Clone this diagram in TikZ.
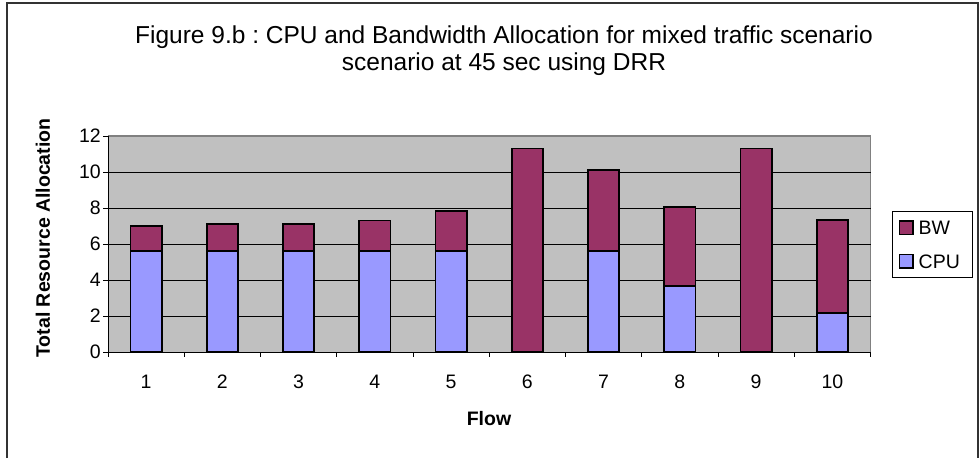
\documentclass[tikz,border=0pt]{standalone}
\usepackage{fontspec}
\setmainfont{Liberation Sans}
\frenchspacing
\definecolor{bwcol}{HTML}{993366}
\definecolor{cpucol}{HTML}{9999FF}
\definecolor{plotbg}{HTML}{C0C0C0}
\definecolor{plotframe}{HTML}{808080}
\definecolor{chartframe}{HTML}{333333}
\begin{document}
\begin{tikzpicture}[x=1pt,y=-1pt,
  titletext/.style={inner sep=0pt,font=\fontsize{24.5}{29}\selectfont},
  ticktext/.style={inner sep=0pt,font=\fontsize{19.5}{23}\selectfont},
  axistitle/.style={inner sep=0pt,font=\fontsize{19.5}{23}\selectfont\bfseries},
  legendtext/.style={inner sep=0pt,anchor=west,font=\fontsize{19.5}{23}\selectfont},
  bar/.style={draw=black,line width=1.7pt},
  grid line/.style={black,line width=0.8pt},
  axis line/.style={black,line width=0.9pt}]
\useasboundingbox (0,0) rectangle (980,458);
% outer chart frame
\draw[chartframe,line width=1.6pt] (7,458) -- (7,3) -- (978,3) -- (978,458);
% title
\node[titletext,anchor=base] (title1) at (504,43) {Figure 9.b : CPU and Bandwidth Allocation for mixed traffic scenario};
\node[titletext,anchor=base] (title2) at (504,70) {scenario at 45 sec using DRR};
% plot area
\fill[plotbg] (108,136) rectangle (870.5,352);
\draw[plotframe,line width=1.4pt] (108,136) -- (870.5,136) -- (870.5,352);
\foreach \v in {2,4,...,10}
  \draw[grid line] (108,{352-18*\v}) -- (870.5,{352-18*\v});
% y axis with ticks and labels
\draw[axis line] (108,136) -- (108,352);
\foreach \v in {0,2,...,12}{
  \draw[axis line] (103,{352-18*\v}) -- (108,{352-18*\v});
  \node[ticktext,anchor=east] (ytick\v) at (101,{352-18*\v}) {\v};
}
% x axis with ticks
\draw[axis line] (108,352) -- (870.5,352);
\foreach \k in {0,...,10}
  \draw[axis line] ({108+76.25*\k},352) -- ({108+76.25*\k},357);
% stacked bars: flow / CPU / total
\foreach \i/\c/\t in {1/5.6/7.0,2/5.6/7.1,3/5.6/7.1,4/5.6/7.3,5/5.6/7.85,
                      6/0/11.3,7/5.6/10.1,8/3.67/8.05,9/0/11.3,10/2.17/7.33}{
  \pgfmathsetmacro{\cx}{108+76.25*(\i-0.5)}
  \filldraw[bar,fill=bwcol] ({\cx-15.7},{352-18*\c}) rectangle ({\cx+15.7},{352-18*\t});
  \filldraw[bar,fill=cpucol] ({\cx-15.7},352) rectangle ({\cx+15.7},{352-18*\c});
  \node[ticktext,anchor=base] (xtick\i) at (\cx,388) {\i};
}
% axis titles
\node[axistitle] (xtitle) at (489,419) {Flow};
\node[axistitle,rotate=90] (ytitle) at (43,238) {Total Resource Allocation};
% legend
\draw[black,line width=1pt] (892,211) rectangle (972,277);
\filldraw[draw=black,line width=1.5pt,fill=bwcol] (899.5,221) rectangle (913,234.5);
\filldraw[draw=black,line width=1.5pt,fill=cpucol] (899.5,254.5) rectangle (913,268);
\node[legendtext] (legbw) at (918.5,227.8) {BW};
\node[legendtext] (legcpu) at (918.5,261.3) {CPU};
\end{tikzpicture}
\end{document}
